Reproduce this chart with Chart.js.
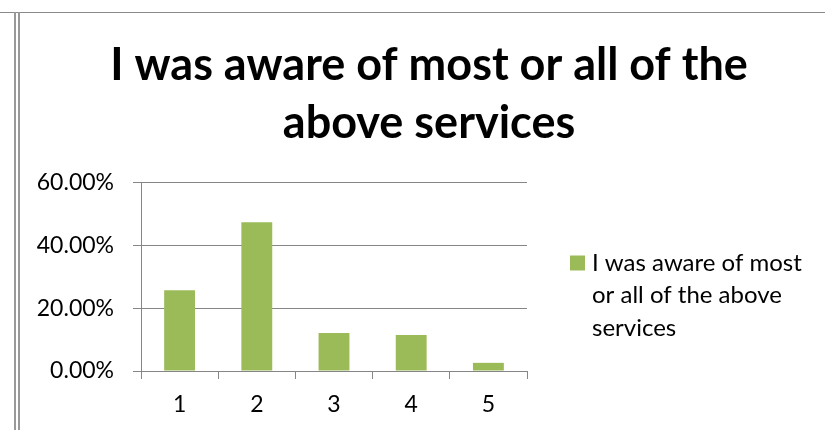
<!DOCTYPE html>
<html>
<head>
<meta charset="utf-8">
<title>I was aware of most or all of the above services</title>
<script src="https://cdn.jsdelivr.net/npm/chart.js@4/dist/chart.umd.min.js"></script>
<style>
  html, body { margin: 0; padding: 0; background: #fff; }
  #wrap { width: 825px; height: 430px; position: relative; }
</style>
</head>
<body>
<div id="wrap"><canvas id="chart" width="825" height="430"></canvas></div>
<script>
// Survey responses: share of respondents per rating
const categories = ['1', '2', '3', '4', '5'];
const awarePercent = [25.8, 47.5, 12.1, 11.5, 2.6];
const yTickValues = [0, 20, 40, 60];
const titleLines = ['I was aware of most or all of the', 'above services'];
const seriesLabel = 'I was aware of most or all of the above services';

const GRID = '#868686';
const BAR = '#9BBB59';

Chart.defaults.font.family = 'Lato, "Open Sans", sans-serif';
Chart.defaults.color = '#000';

// Thin frame lines around the chart cell
const framePlugin = {
  id: 'frame',
  beforeDraw(chart) {
    const ctx = chart.ctx;
    ctx.save();
    ctx.fillStyle = '#fff';
    ctx.fillRect(0, 0, chart.width, chart.height);
    ctx.fillStyle = '#8a8a8a';
    ctx.fillRect(0, 12, chart.width, 1);
    ctx.fillStyle = '#999';
    ctx.fillRect(14, 12, 2, chart.height - 12);
    ctx.fillRect(18, 12, 2, chart.height - 12);
    ctx.restore();
  }
};

// Legend at the right, with the series name wrapped over several lines
const wrappedLegend = {
  id: 'wrappedLegend',
  afterDraw(chart, args, opts) {
    const ctx = chart.ctx;
    const ds = chart.data.datasets[0];
    ctx.save();
    ctx.font = opts.size + 'px ' + Chart.defaults.font.family;
    const words = ds.label.split(' ');
    const lines = [];
    let line = '';
    words.forEach(w => {
      const test = line ? line + ' ' + w : w;
      if (ctx.measureText(test).width > opts.maxWidth && line) {
        lines.push(line);
        line = w;
      } else {
        line = test;
      }
    });
    if (line) lines.push(line);
    ctx.fillStyle = ds.backgroundColor;
    ctx.fillRect(opts.x, opts.y - opts.box / 2, opts.box, opts.box);
    ctx.fillStyle = '#000';
    ctx.textBaseline = 'middle';
    ctx.textAlign = 'left';
    lines.forEach((l, i) => {
      ctx.fillText(l, opts.x + opts.box + 7, opts.y + i * opts.lineStep);
    });
    ctx.restore();
  }
};

new Chart(document.getElementById('chart'), {
  type: 'bar',
  data: {
    labels: categories,
    datasets: [{
      label: seriesLabel,
      data: awarePercent,
      backgroundColor: BAR,
      borderWidth: 0,
      categoryPercentage: 1.0,
      barPercentage: 0.4
    }]
  },
  options: {
    responsive: false,
    animation: false,
    layout: { padding: { top: 0, left: 33, right: 0, bottom: 0 } },
    plugins: {
      legend: { display: false },
      tooltip: { enabled: false },
      title: {
        display: true,
        text: titleLines,
        color: '#000',
        font: { size: 45, weight: 'bold', lineHeight: 1.282 },
        padding: { top: 36.5, bottom: 31.1 },
        align: 'center',
        fullSize: true
      },
      wrappedLegend: { x: 570, y: 263, box: 15, size: 24, lineStep: 32.5, maxWidth: 225 }
    },
    scales: {
      x: {
        grid: {
          display: true,
          drawOnChartArea: false,
          drawTicks: true,
          tickLength: 8,
          color: GRID,
          offset: true
        },
        border: { display: true, color: GRID },
        ticks: { font: { size: 23 }, padding: 12, color: '#000', maxRotation: 0 },
        afterFit(scale) { scale.height = 59; }
      },
      y: {
        min: 0,
        max: 60,
        afterBuildTicks(scale) { scale.ticks = yTickValues.map(v => ({ value: v })); },
        grid: { color: GRID, tickLength: 8, drawTicks: true },
        border: { display: true, color: GRID },
        ticks: {
          font: { size: 23 },
          padding: 19,
          color: '#000',
          callback: v => Number(v).toFixed(2) + '%'
        },
        afterFit(scale) { scale.width = 108; }
      },
      // empty right-hand band that holds the legend
      legendBand: {
        type: 'linear',
        position: 'right',
        display: true,
        grid: { display: false, drawTicks: false },
        border: { display: false },
        ticks: { display: false },
        afterFit(scale) { scale.width = 298; }
      }
    }
  },
  plugins: [framePlugin, wrappedLegend]
});
</script>
</body>
</html>
